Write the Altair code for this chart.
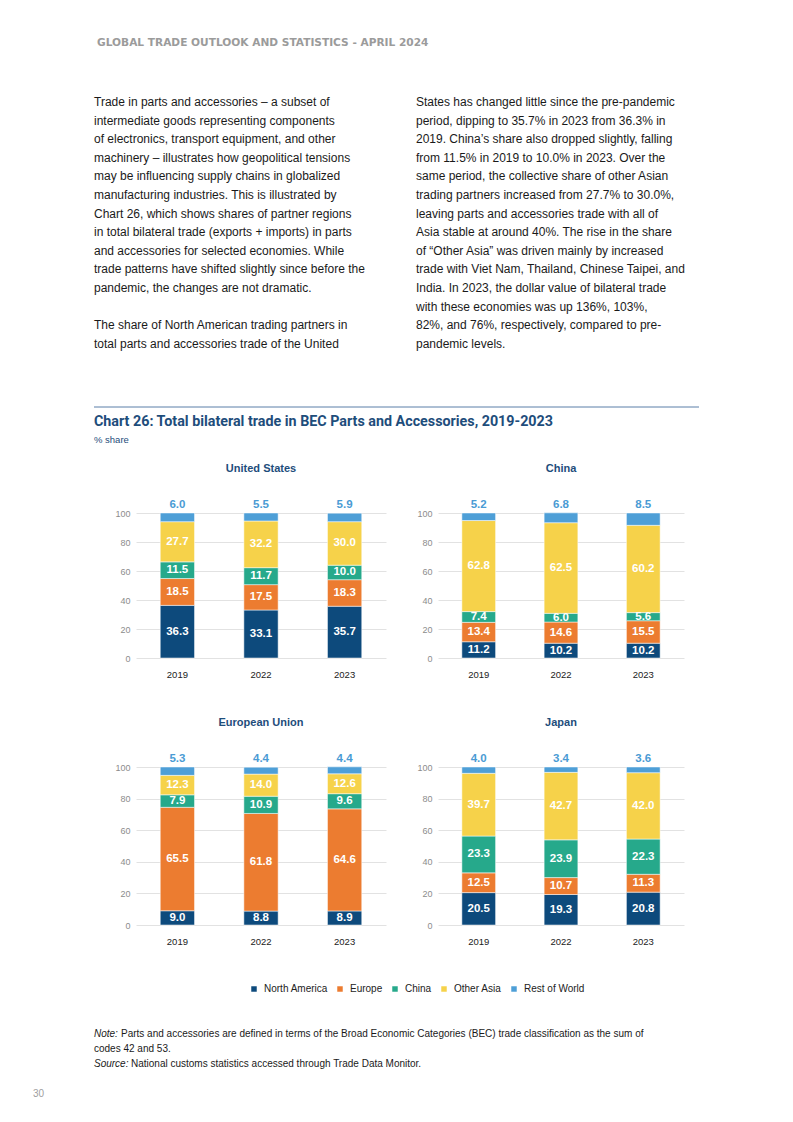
import altair as alt
import pandas as pd

# ---------------- data ----------------
years = ["2019", "2022", "2023"]
regions = ["North America", "Europe", "China", "Other Asia", "Rest of World"]
region_colors = ["#0d4a7c", "#ec7c30", "#26a98b", "#f6d24a", "#4e9fd7"]

united_states = {
    "North America": [36.3, 33.1, 35.7],
    "Europe": [18.5, 17.5, 18.3],
    "China": [11.5, 11.7, 10.0],
    "Other Asia": [27.7, 32.2, 30.0],
    "Rest of World": [6.0, 5.5, 5.9],
}
china = {
    "North America": [11.2, 10.2, 10.2],
    "Europe": [13.4, 14.6, 15.5],
    "China": [7.4, 6.0, 5.6],
    "Other Asia": [62.8, 62.5, 60.2],
    "Rest of World": [5.2, 6.8, 8.5],
}
european_union = {
    "North America": [9.0, 8.8, 8.9],
    "Europe": [65.5, 61.8, 64.6],
    "China": [7.9, 10.9, 9.6],
    "Other Asia": [12.3, 14.0, 12.6],
    "Rest of World": [5.3, 4.4, 4.4],
}
japan = {
    "North America": [20.5, 19.3, 20.8],
    "Europe": [12.5, 10.7, 11.3],
    "China": [23.3, 23.9, 22.3],
    "Other Asia": [39.7, 42.7, 42.0],
    "Rest of World": [4.0, 3.4, 3.6],
}
y_ticks = [0, 20, 40, 60, 80, 100]

header_text = "GLOBAL TRADE OUTLOOK AND STATISTICS - APRIL 2024"
left_lines_a = [
    "Trade in parts and accessories \u2013 a subset of",
    "intermediate goods representing components",
    "of electronics, transport equipment, and other",
    "machinery \u2013 illustrates how geopolitical tensions",
    "may be influencing supply chains in globalized",
    "manufacturing industries. This is illustrated by",
    "Chart 26, which shows shares of partner regions",
    "in total bilateral trade (exports + imports) in parts",
    "and accessories for selected economies. While",
    "trade patterns have shifted slightly since before the",
    "pandemic, the changes are not dramatic.",
]
left_lines_b = [
    "The share of North American trading partners in",
    "total parts and accessories trade of the United",
]
right_lines = [
    "States has changed little since the pre-pandemic",
    "period, dipping to 35.7% in 2023 from 36.3% in",
    "2019. China\u2019s share also dropped slightly, falling",
    "from 11.5% in 2019 to 10.0% in 2023. Over the",
    "same period, the collective share of other Asian",
    "trading partners increased from 27.7% to 30.0%,",
    "leaving parts and accessories trade with all of",
    "Asia stable at around 40%. The rise in the share",
    "of \u201cOther Asia\u201d was driven mainly by increased",
    "trade with Viet Nam, Thailand, Chinese Taipei, and",
    "India. In 2023, the dollar value of bilateral trade",
    "with these economies was up 136%, 103%,",
    "82%, and 76%, respectively, compared to pre-",
    "pandemic levels.",
]
chart_title = "Chart 26: Total bilateral trade in BEC Parts and Accessories, 2019-2023"
chart_subtitle = "% share"
note_label = "Note:"
note_text = "Parts and accessories are defined in terms of the Broad Economic Categories (BEC) trade classification as the sum of"
note_text2 = "codes 42 and 53."
source_label = "Source:"
source_text = "National customs statistics accessed through Trade Data Monitor."
page_number = "30"

# ---------------- styling ----------------
FONT = "Liberation Sans"
TITLE_FONT = "Roboto"
DARK_BLUE = "#1e4d7b"
ROW_COLOR = "#4a9bd4"

COL1_X, COL2_X, TOP_Y = 135, 437, 8
W1, W2 = 250, 246
H_TEXT, H_TOP, H_BOT = 395, 145, 158
LINE_H = 18.6


def one_row():
    return alt.Chart(pd.DataFrame({"a": [0]}))


legend = alt.Legend(
    orient="none", legendX=113, legendY=975, direction="horizontal", title=None,
    symbolType="square", symbolSize=30, symbolStrokeWidth=0, labelFont=FONT,
    labelFontSize=10, labelColor="#222222", columnPadding=7, labelOffset=5, padding=0,
)

x_axis = alt.Axis(labelAngle=0, ticks=False, domain=False, labelPadding=11,
                  labelFontSize=9.5, labelColor="#222222", labelFont=FONT, grid=False,
                  title=None)
y_axis = alt.Axis(values=y_ticks, ticks=False, domain=False, labelPadding=6,
                  labelFontSize=9, labelColor="#8c8c8c", labelFont=FONT,
                  labelOverlap=False, grid=True,
                  gridColor="#e2e2e2", gridWidth=1, title=None)


def panel(name, shares, w, h):
    records = []
    for k, r in enumerate(regions):
        for j, yr in enumerate(years):
            records.append({"year": yr, "region": r, "rank": k, "value": shares[r][j]})
    df = pd.DataFrame(records)
    base = alt.Chart(df).transform_stack(
        stack="value", groupby=["year"],
        sort=[alt.SortField("rank", order="ascending")], as_=["v0", "v1"],
    ).transform_calculate(vm="(datum.v0 + datum.v1) / 2")
    x_scale = alt.Scale(paddingInner=0.59, paddingOuter=0.29)
    y_scale = alt.Scale(domain=[0, 100], nice=False)
    x_enc = alt.X("year:N", sort=years, title=None, scale=x_scale, axis=x_axis)
    bars = base.mark_bar(stroke="white", strokeWidth=0.5).encode(
        x=x_enc,
        y=alt.Y("v0:Q", scale=y_scale, axis=y_axis, title=None),
        y2="v1:Q",
        color=alt.Color("region:N", scale=alt.Scale(domain=regions, range=region_colors), legend=legend),
    )
    inner = base.transform_filter(alt.datum.region != "Rest of World").mark_text(
        font=FONT, fontWeight="bold", fontSize=11.5, color="white", baseline="middle"
    ).encode(
        x=x_enc,
        y=alt.Y("vm:Q", scale=y_scale, axis=y_axis, title=None),
        text=alt.Text("value:Q", format=".1f"),
    )
    top = base.transform_filter(alt.datum.region == "Rest of World").mark_text(
        font=FONT, fontWeight="bold", fontSize=11.5, color=ROW_COLOR, baseline="middle", dy=-8
    ).encode(
        x=x_enc,
        y=alt.Y("v1:Q", scale=y_scale, axis=y_axis, title=None),
        text=alt.Text("value:Q", format=".1f"),
    )
    ttl = one_row().mark_text(
        text=name, font=FONT, fontWeight="bold", fontSize=11, color=DARK_BLUE, baseline="middle"
    ).encode(x=alt.value(w / 2), y=alt.value(-44))
    return alt.layer(bars, inner, top, ttl).properties(width=w, height=h)


# ---------------- page text ----------------
def tx(xp):
    return xp - COL1_X


def ty(yp):
    return yp - TOP_Y


def txt(text, xp, yp, x0=COL1_X, **kw):
    style = dict(font=FONT, fontSize=12, color="#1a1a1a", align="left", baseline="middle")
    style.update(kw)
    return one_row().mark_text(text=text, **style).encode(
        x=alt.value(xp - x0), y=alt.value(yp - TOP_Y)
    )


anchor = one_row().mark_rule(color="white").encode(
    x=alt.value(tx(8)), x2=alt.value(tx(9)), y=alt.value(ty(8))
)
top_rule = one_row().mark_rule(color="#5b7fa8", strokeWidth=1).encode(
    x=alt.value(tx(93)), x2=alt.value(tx(698)), y=alt.value(ty(406))
)

PARA_Y = 105
text_cell1 = alt.layer(
    anchor,
    txt(header_text, 96, 42, font="DejaVu Sans", fontWeight="bold", fontSize=10.6, color="#9b9b9b"),
    txt(left_lines_a, 93, PARA_Y, baseline="alphabetic", lineHeight=LINE_H),
    txt(left_lines_b, 93, PARA_Y + 12 * LINE_H, baseline="alphabetic", lineHeight=LINE_H),
    top_rule,
    txt(chart_title, 93, 421, font=TITLE_FONT, fontWeight="bold", fontSize=14.3, color=DARK_BLUE),
    txt(chart_subtitle, 93, 439, fontSize=9.5, color=DARK_BLUE),
    txt(note_label, 93, 1033, fontSize=10, fontStyle="italic"),
    txt(note_text, 120, 1033, fontSize=10),
    txt(note_text2, 93, 1047.5, fontSize=10),
    txt(source_label, 93, 1063, fontSize=10, fontStyle="italic"),
    txt(source_text, 130, 1063, fontSize=10),
    txt(page_number, 32, 1093, fontSize=10, color="#a0a0a0"),
).properties(width=W1, height=H_TEXT)

text_cell2 = alt.layer(
    txt(right_lines, 415, PARA_Y, x0=COL2_X, baseline="alphabetic", lineHeight=LINE_H),
).properties(width=W2, height=H_TEXT)

chart = alt.concat(
    text_cell1, text_cell2,
    panel("United States", united_states, W1, H_TOP),
    panel("China", china, W2, H_TOP),
    panel("European Union", european_union, W1, H_BOT),
    panel("Japan", japan, W2, H_BOT),
    columns=2,
    spacing={"row": 109, "column": 52},
    bounds="flush",
).properties(padding=0).configure_view(stroke=None)

chart.save("out.html", embed_options={"renderer": "svg", "actions": False})
